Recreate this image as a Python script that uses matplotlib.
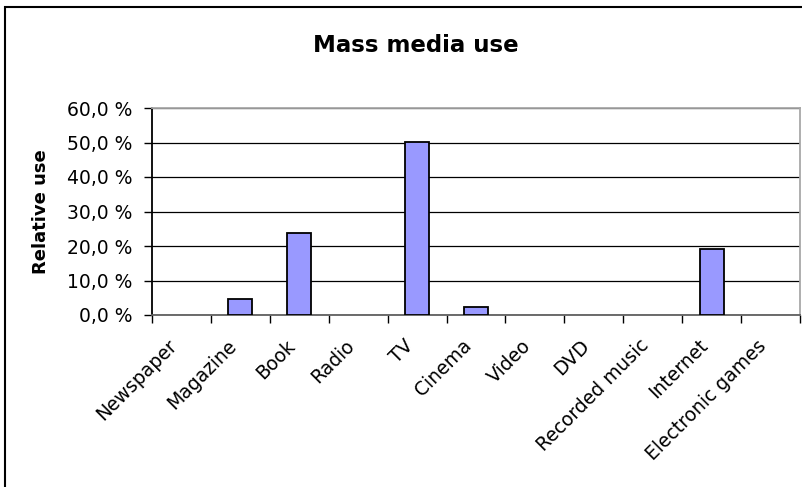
import numpy as np
import matplotlib.pyplot as plt
from matplotlib.patches import Rectangle
from matplotlib.transforms import ScaledTranslation

plt.rcParams['font.family'] = ['DejaVu Sans']

media = ['Newspaper', 'Magazine', 'Book', 'Radio', 'TV', 'Cinema', 'Video',
         'DVD', 'Recorded music', 'Internet', 'Electronic games']
use = [0.0, 4.7, 23.8, 0.0, 50.1, 2.2, 0.0, 0.0, 0.0, 19.0, 0.0]
yticks = [0, 10, 20, 30, 40, 50, 60]

fig = plt.figure(figsize=(8.03, 4.87), dpi=100)
ax = fig.add_axes([152 / 803, (487 - 315) / 487, 648 / 803, 207 / 487])

x = np.arange(len(media))
bars = ax.bar(x, use, width=0.41, color='#9999FF', edgecolor='black',
              linewidth=1.3, zorder=3)
# empty categories get no outline
for b, v in zip(bars, use):
    if v == 0:
        b.set_linewidth(0)

ax.set_xlim(-0.5, len(media) - 0.5)
ax.set_ylim(0, 60)
ax.set_yticks(yticks)
ax.set_yticklabels(['%d,0 %%' % v for v in yticks], fontsize=13.5)
ax.yaxis.grid(True, color='black', linewidth=0.9, zorder=1)
ax.tick_params(axis='y', length=6, width=1, pad=8)

# category labels in the middle, tick marks on the boundaries
ax.set_xticks(x)
ax.set_xticks(np.arange(len(media) + 1) - 0.5, minor=True)
ax.tick_params(axis='x', which='major', length=0, pad=20)
ax.tick_params(axis='x', which='minor', length=6, width=1)
ax.set_xticklabels(media, rotation=45, ha='right', va='center',
                   rotation_mode='anchor', fontsize=13.5)
shift = ScaledTranslation(-7 / 100, 0, fig.dpi_scale_trans)
for lab in ax.get_xticklabels():
    lab.set_transform(lab.get_transform() + shift)

ax.spines['left'].set_color('black')
ax.spines['bottom'].set_color('#606060')
ax.spines['top'].set_color('#A8A8A8')
ax.spines['right'].set_color('#A8A8A8')
for s in ax.spines.values():
    s.set_linewidth(1.3)

ax.set_ylabel('Relative use', fontsize=13, fontweight='bold', labelpad=12)
fig.text(416 / 803, 1 - 46 / 487, 'Mass media use', ha='center', va='center',
         fontsize=16.5, fontweight='bold')

# outer chart frame
fig.patches.append(Rectangle((5.5 / 803, -0.05), 1.1, 1.05 - 7 / 487,
                             transform=fig.transFigure, fill=False,
                             edgecolor='black', linewidth=1.5))

fig.savefig('out.png', dpi=100)
